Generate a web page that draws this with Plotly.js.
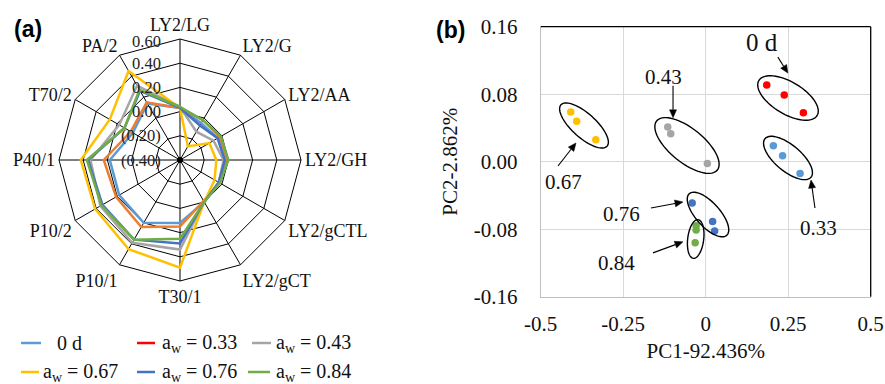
<!DOCTYPE html>
<html><head><meta charset="utf-8">
<script src="https://cdn.plot.ly/plotly-3.0.1.min.js"></script>
<style>html,body{margin:0;padding:0;background:#fff;}</style>
</head><body><div id="chart" style="width:885px;height:384px;"></div>
<script>
// ---------- Panel (a) radar data ----------
const radarAxes = ['LY2/LG','LY2/G','LY2/AA','LY2/GH','LY2/gCTL','LY2/gCT','T30/1','P10/1','P10/2','P40/1','T70/2','PA/2'];
const radarNames = ['0 d','a<sub>w</sub> = 0.33','a<sub>w</sub> = 0.43','a<sub>w</sub> = 0.67','a<sub>w</sub> = 0.76','a<sub>w</sub> = 0.84'];
const radar_0d   = [0.03, -0.05, -0.04, -0.03, -0.03, 0.00, 0.12, 0.20, 0.18, 0.18, 0.05, 0.14];
const radar_033  = [0.03, -0.02, -0.02, -0.01, -0.02, -0.01, 0.15, 0.24, 0.21, 0.23, 0.07, 0.15];
const radar_043  = [0.04, -0.13, -0.08, -0.04, -0.03, 0.00, 0.34, 0.39, 0.36, 0.34, 0.18, 0.31];
const radar_067  = [0.03, -0.27, -0.12, -0.10, -0.07, 0.00, 0.49, 0.45, 0.41, 0.42, 0.27, 0.45];
const radar_076  = [0.03, -0.07, -0.04, -0.03, -0.03, 0.00, 0.29, 0.36, 0.34, 0.36, 0.13, 0.26];
const radar_084  = [0.04, -0.02, -0.01, 0.00, -0.02, 0.00, 0.25, 0.36, 0.35, 0.37, 0.13, 0.27];
const radarColors = ['#5B9BD5','#ED7D31','#A5A5A5','#FFC000','#4472C4','#70AD47'];
const legendColors = ['#5B9BD5','#FF0000','#A5A5A5','#FFC000','#4472C4','#70AD47'];
const radialTickVals = [-0.4,-0.2,0,0.2,0.4,0.6];
const radialTickText = ['(0.40)','(0.20)','0.00','0.20','0.40','0.60'];

// ---------- Panel (b) PCA data ----------
const groupLabels = ['0 d','0.33','0.67','0.43','0.76','0.84'];
const groupColors = ['#FF0000','#5B9BD5','#FFC000','#A5A5A5','#4472C4','#70AD47'];
const pc1_0d  = [0.185, 0.238, 0.296];   const pc2_0d  = [0.091, 0.079, 0.058];
const pc1_033 = [0.205, 0.233, 0.286];   const pc2_033 = [0.019, 0.007, -0.014];
const pc1_067 = [-0.409, -0.391, -0.333]; const pc2_067 = [0.059, 0.048, 0.026];
const pc1_043 = [-0.115, -0.106, 0.005];  const pc2_043 = [0.041, 0.033, -0.002];
const pc1_076 = [-0.041, 0.021, 0.027];   const pc2_076 = [-0.049, -0.071, -0.082];
const pc1_084 = [-0.029, -0.029, -0.032]; const pc2_084 = [-0.076, -0.081, -0.096];
const xTickVals = [-0.5,-0.25,0,0.25,0.5];
const xTickText = ['-0.5','-0.25','0','0.25','0.5'];
const yTickVals = [-0.16,-0.08,0,0.08,0.16];
const yTickText = ['-0.16','-0.08','0.00','0.08','0.16'];

const SERIF = 'Liberation Serif, Times New Roman, serif';
const W = 885, H = 384;

const radarSeries = [radar_0d, radar_033, radar_043, radar_067, radar_076, radar_084];
const traces = [];
radarSeries.forEach((vals, i) => {
  traces.push({
    type: 'scatterpolar', mode: 'lines', subplot: 'polar',
    r: vals.concat([vals[0]]), theta: radarAxes.concat([radarAxes[0]]),
    line: {color: radarColors[i], width: 2.5}, name: radarNames[i], showlegend: false,
    hoverinfo: 'skip'
  });
});

const pcX = [pc1_0d, pc1_033, pc1_067, pc1_043, pc1_076, pc1_084];
const pcY = [pc2_0d, pc2_033, pc2_067, pc2_043, pc2_076, pc2_084];
pcX.forEach((xs, i) => {
  traces.push({
    type: 'scatter', mode: 'markers', xaxis: 'x', yaxis: 'y',
    x: xs, y: pcY[i], marker: {color: groupColors[i], size: 7.5},
    name: groupLabels[i], showlegend: false
  });
});

// ---------- layout geometry ----------
const xDom = [540.7/W, 870.7/W];
const yDom = [(H-296.7)/H, (H-26.7)/H];
const pxPerX = (xDom[1]-xDom[0])*W / 1.0;
const pxPerY = (yDom[1]-yDom[0])*H / 0.32;

// ellipses: centre (data), semi axes (px), tilt (deg, screen)
const ellCx = [0.2494, 0.2494, -0.3688, -0.0567, 0.007, -0.0303];
const ellCy = [0.0755, 0.0044, 0.0429, 0.0192, -0.0626, -0.0916];
const ellA  = [34, 30, 31, 39, 28, 19.5];
const ellB  = [16, 13, 12, 17, 12, 8];
const ellT  = [31, 40, 42, 39, 48, 97];

const shapes = [];
for (let k = 0; k < ellCx.length; k++) {
  const th = ellT[k]*Math.PI/180;
  let d = '';
  for (let j = 0; j <= 72; j++) {
    const t = j/72*2*Math.PI;
    const dx = ellA[k]*Math.cos(t)*Math.cos(th) - ellB[k]*Math.sin(t)*Math.sin(th);
    const dy = ellA[k]*Math.cos(t)*Math.sin(th) + ellB[k]*Math.sin(t)*Math.cos(th);
    const x = ellCx[k] + dx/pxPerX, y = ellCy[k] - dy/pxPerY;
    d += (j === 0 ? 'M' : 'L') + x.toFixed(5) + ',' + y.toFixed(5);
  }
  d += 'Z';
  shapes.push({type:'path', xref:'x', yref:'y', path:d, line:{color:'#000', width:1.4}});
}
// top & right frame lines of panel (b)
shapes.push({type:'line', xref:'x domain', yref:'y domain', x0:0, x1:1, y0:1, y1:1, line:{color:'#000', width:1.3}});
shapes.push({type:'line', xref:'x domain', yref:'y domain', x0:1, x1:1, y0:0, y1:1, line:{color:'#000', width:1.3}});

// manual legend for panel (a)
const legLineX = [[21,41],[137,155],[252,271],[21,39],[137,155],[248,270]];
const legTextX = [55,160,274,41,160,274];
const legRowY = [343, 372];
const annotations = [];
radarNames.forEach((nm, i) => {
  const yy = 1 - legRowY[Math.floor(i/3)]/H;
  shapes.push({type:'line', xref:'paper', yref:'paper', x0:legLineX[i][0]/W, x1:legLineX[i][1]/W, y0:yy, y1:yy,
    line:{color:legendColors[i], width:2.5}});
  annotations.push({xref:'paper', yref:'paper', x:legTextX[i]/W, y:yy, xanchor:'left', yanchor:'middle',
    text:nm, showarrow:false, font:{family:SERIF, size:20, color:'#111'}});
});

// panel labels
annotations.push({xref:'paper', yref:'paper', x:12/W, y:1-29/H, xanchor:'left', yanchor:'middle', text:'<b>(a)</b>',
  showarrow:false, font:{family:'Liberation Sans, Arial, sans-serif', size:23, color:'#000'}});
annotations.push({xref:'paper', yref:'paper', x:434/W, y:1-30/H, xanchor:'left', yanchor:'middle', text:'<b>(b)</b>',
  showarrow:false, font:{family:'Liberation Sans, Arial, sans-serif', size:23, color:'#000'}});

// radar geometry + radial tick labels (placed left of the vertical spoke)
const pDomX = [59/W, 301/W], pDomY = [(H-281)/H, (H-39)/H];
const cxp = (pDomX[0]+pDomX[1])/2, cyp = (pDomY[0]+pDomY[1])/2;
const radPx = (pDomY[1]-pDomY[0])*H/2;
radialTickVals.forEach((v, i) => {
  const frac = (v - radialTickVals[0]) / (radialTickVals[radialTickVals.length-1] - radialTickVals[0]);
  annotations.push({xref:'paper', yref:'paper', x:cxp - 18/W, y:cyp + frac*radPx/H, xanchor:'right', yanchor:'middle',
    yshift: (i === radialTickVals.length-1) ? -2 : 0, borderpad: 0,
    text:radialTickText[i], showarrow:false, font:{family:SERIF, size:16.5, color:'#222'}});
});
shapes.push({type:'circle', xref:'paper', yref:'paper', x0:cxp-3/W, x1:cxp+3/W, y0:cyp-3/H, y1:cyp+3/H,
  fillcolor:'#000', line:{width:0}});

// PCA group labels and arrows
const lblX = [0.171, 0.343, -0.432, -0.129, -0.254, -0.269];
const lblY = [0.141, -0.0785, -0.024, 0.100, -0.062, -0.120];
const lblSize = [25, 21, 21, 21, 21, 21];
const arrX = [0.249, 0.319, -0.393, -0.099, -0.069, -0.069];
const arrY = [0.105, -0.0217, 0.0222, 0.052, -0.0477, -0.095];
const arrAX = [-10, 4, -18, 0, -32, -30];   // tail offset, px right
const arrAY = [-16, 28, 23, -32, 6, 11];    // tail offset, px down
groupLabels.forEach((g, i) => {
  annotations.push({xref:'x', yref:'y', x:lblX[i], y:lblY[i], text:g, showarrow:false,
    font:{family:SERIF, size:lblSize[i], color:'#111'}});
  const tx = arrAX[i], ty = -arrAY[i];
  const len = Math.hypot(tx, ty), ux = -tx/len, uy = -ty/len;
  const L = 8, Wd = 3.5;
  const bx = -ux*L, by = -uy*L, px = -uy*Wd, py = ux*Wd;
  shapes.push({type:'path', xref:'x', yref:'y', xsizemode:'pixel', ysizemode:'pixel',
    xanchor:arrX[i], yanchor:arrY[i],
    path:`M${tx},${ty}L${bx},${by}`, line:{color:'#000', width:1.1}});
  shapes.push({type:'path', xref:'x', yref:'y', xsizemode:'pixel', ysizemode:'pixel',
    xanchor:arrX[i], yanchor:arrY[i],
    path:`M0,0L${bx+px},${by+py}L${bx-px},${by-py}Z`, fillcolor:'#000', line:{color:'#000', width:0.5}});
});

const layout = {
  width: W, height: H, autosize: false,
  margin: {l:0, r:0, t:0, b:0},
  paper_bgcolor: '#fff', plot_bgcolor: '#fff',
  showlegend: false,
  font: {family: SERIF, color: '#111'},
  polar: {
    domain: {x: pDomX, y: pDomY},
    gridshape: 'linear',
    bgcolor: '#fff',
    angularaxis: {
      type: 'category', categoryarray: radarAxes, direction: 'clockwise', rotation: 90,
      showline: true, linecolor: '#000', linewidth: 1,
      showgrid: true, gridcolor: '#000', gridwidth: 1,
      ticks: '', tickfont: {family: SERIF, size: 18, color: '#111'}
    },
    radialaxis: {
      range: [-0.4, 0.6], angle: 90, tickvals: radialTickVals, showticklabels: false,
      showline: false, showgrid: true, gridcolor: '#000', gridwidth: 1, ticks: ''
    }
  },
  xaxis: {
    domain: xDom, range: [-0.5, 0.5], tickvals: xTickVals, ticktext: xTickText,
    showgrid: true, gridcolor: '#D9D9D9', gridwidth: 1, zeroline: false,
    showline: true, linecolor: '#BFBFBF', linewidth: 1, ticks: '', ticklabelstandoff: 8,
    tickfont: {family: SERIF, size: 21, color: '#111'},
    title: {text: 'PC1-92.436%', font: {family: SERIF, size: 21, color: '#111'}, standoff: 8}
  },
  yaxis: {
    domain: yDom, range: [-0.16, 0.16], tickvals: yTickVals, ticktext: yTickText,
    showgrid: true, gridcolor: '#D9D9D9', gridwidth: 1, zeroline: false,
    showline: true, linecolor: '#BFBFBF', linewidth: 1, ticks: '', ticklabelstandoff: 18,
    tickfont: {family: SERIF, size: 21, color: '#111'},
    title: {text: 'PC2-2.862%', font: {family: SERIF, size: 21, color: '#111'}, standoff: 10}
  },
  shapes: shapes,
  annotations: annotations
};

Plotly.newPlot('chart', traces, layout, {displayModeBar: false, staticPlot: true});
</script>
</body></html>
